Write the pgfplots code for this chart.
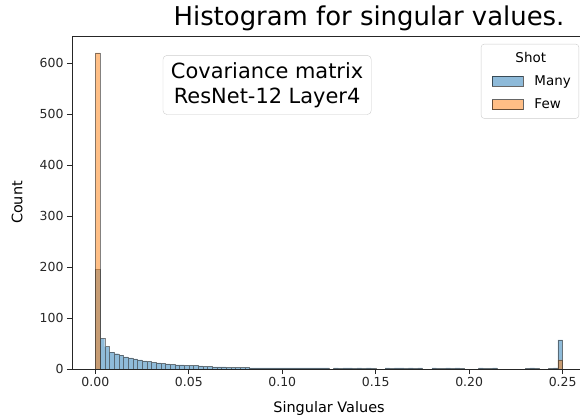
\documentclass[border=0pt]{standalone}
\usepackage{pgfplots}
\pgfplotsset{compat=1.18}
\usepackage{pgfplotstable}
\usepackage{fontspec}
\setmainfont{DejaVu Sans}
\definecolor{sbblue}{HTML}{1F77B4}
\definecolor{sborange}{HTML}{FF7F0E}
\pgfplotstableread{
x many few
0.0000 195 620
0.0025 60 0
0.0050 44 0
0.0075 33 0
0.0100 30 0
0.0125 27 0
0.0150 24 0
0.0175 22 0
0.0200 20 0
0.0225 18 0
0.0250 16 0
0.0275 15 0
0.0300 13 0
0.0325 12 0
0.0350 11 0
0.0375 10 0
0.0400 9 0
0.0425 8 0
0.0450 8 0
0.0475 7 0
0.0500 7 0
0.0525 7 0
0.0550 6 0
0.0575 5 0
0.0600 5 0
0.0625 4 0
0.0650 4 0
0.0675 4 0
0.0700 3 0
0.0725 3 0
0.0750 3 0
0.0775 3 0
0.0800 3 0
0.0825 2 0
0.0850 2 0
0.0875 2 0
0.0900 2 0
0.0925 2 0
0.0950 2 0
0.0975 2 0
0.1000 2 0
0.1025 2 0
0.1050 2 0
0.1075 2 0
0.1100 2 0
0.1125 2 0
0.1150 2 0
0.1175 2 0
0.1200 2 0
0.1225 2 0
0.1250 0 0
0.1275 2 0
0.1300 1 0
0.1325 2 0
0.1350 2 0
0.1375 1 0
0.1400 2 0
0.1425 1 0
0.1450 2 0
0.1475 1 0
0.1500 0 0
0.1525 0 0
0.1550 2 0
0.1575 1 0
0.1600 2 0
0.1625 2 0
0.1650 1 0
0.1675 2 0
0.1700 1 0
0.1725 2 0
0.1750 0 0
0.1775 0 0
0.1800 2 0
0.1825 1 0
0.1850 1 0
0.1875 2 0
0.1900 1 0
0.1925 2 0
0.1950 1 0
0.1975 0 0
0.2000 0 0
0.2025 0 0
0.2050 2 0
0.2075 1 0
0.2100 1 0
0.2125 2 0
0.2150 0 0
0.2175 0 0
0.2200 0 0
0.2225 0 0
0.2250 0 0
0.2275 0 0
0.2300 1 0
0.2325 2 0
0.2350 1 0
0.2375 0 0
0.2400 0 0
0.2425 1 0
0.2450 2 0
0.2475 57 18
0.2500 0 0
}\histdata
\begin{document}
\begin{tikzpicture}
\useasboundingbox (-72bp,-49bp) rectangle (508bp,369bp);
\begin{axis}[
  scale only axis,
  width=514bp, height=333bp,
  anchor=south west, at={(0,0)},
  xmin=-0.0125, xmax=0.2625,
  ymin=0, ymax=653,
  xtick={0,0.05,0.1,0.15,0.2,0.25},
  ytick={0,100,200,300,400,500,600},
  xticklabel style={/pgf/number format/.cd,fixed,fixed zerofill,precision=2},
  /pgf/number format/assume math mode=true,
  tick label style={font=\fontsize{12.5}{14}\selectfont, text=black!85},
  tick align=outside,
  major tick length=5bp,
  xtick pos=bottom, ytick pos=left,
  axis line style={black!85, line width=0.7pt},
  tick style={black!85, line width=0.7pt},
  xlabel={Singular Values}, ylabel={Count},
  label style={font=\fontsize{14.5}{16}\selectfont},
  xlabel style={at={(axis description cs:0.5,0)}, anchor=center, yshift=-40bp},
  ylabel style={at={(axis description cs:-0.107,0.5)}, anchor=center},
  legend style={at={(rel axis cs:0.9864,0.976)}, anchor=north east,
    draw=black!20, rounded corners=3pt, fill=white,
    font=\fontsize{13.5}{16}\selectfont, cells={anchor=west},
    row sep=8pt, column sep=9pt, inner xsep=6bp, inner ysep=6bp},
]
\addlegendimage{empty legend}
\addlegendentry{\hspace*{-19bp}Shot}
\addplot[ybar interval, fill=sbblue, fill opacity=0.5, draw=black!80, draw opacity=0.6, line width=0.4pt,
  legend image code/.code={\draw[sharp corners, fill=sbblue, fill opacity=0.5, draw=black, line width=0.7pt] (5bp,-5bp) rectangle (36bp,5bp);}]
  table[x=x, y=many] {\histdata};
\addlegendentry{Many}
\addplot[ybar interval, fill=sborange, fill opacity=0.5, draw=black!80, draw opacity=0.6, line width=0.4pt,
  legend image code/.code={\draw[sharp corners, fill=sborange, fill opacity=0.5, draw=black, line width=0.7pt] (5bp,-5bp) rectangle (36bp,5bp);}]
  table[x=x, y=few] {\histdata};
\addlegendentry{Few}
\node[draw=black!20, rounded corners=4pt, fill=white, align=center,
  font=\fontsize{21}{25}\selectfont, inner xsep=8pt, inner ysep=7pt]
  at (axis cs:0.0919,557) {Covariance matrix\\ResNet-12 Layer4};
\end{axis}
\node[font=\fontsize{26}{30}\selectfont] at (297bp,351bp) {Histogram for singular values.};
\end{tikzpicture}
\end{document}
